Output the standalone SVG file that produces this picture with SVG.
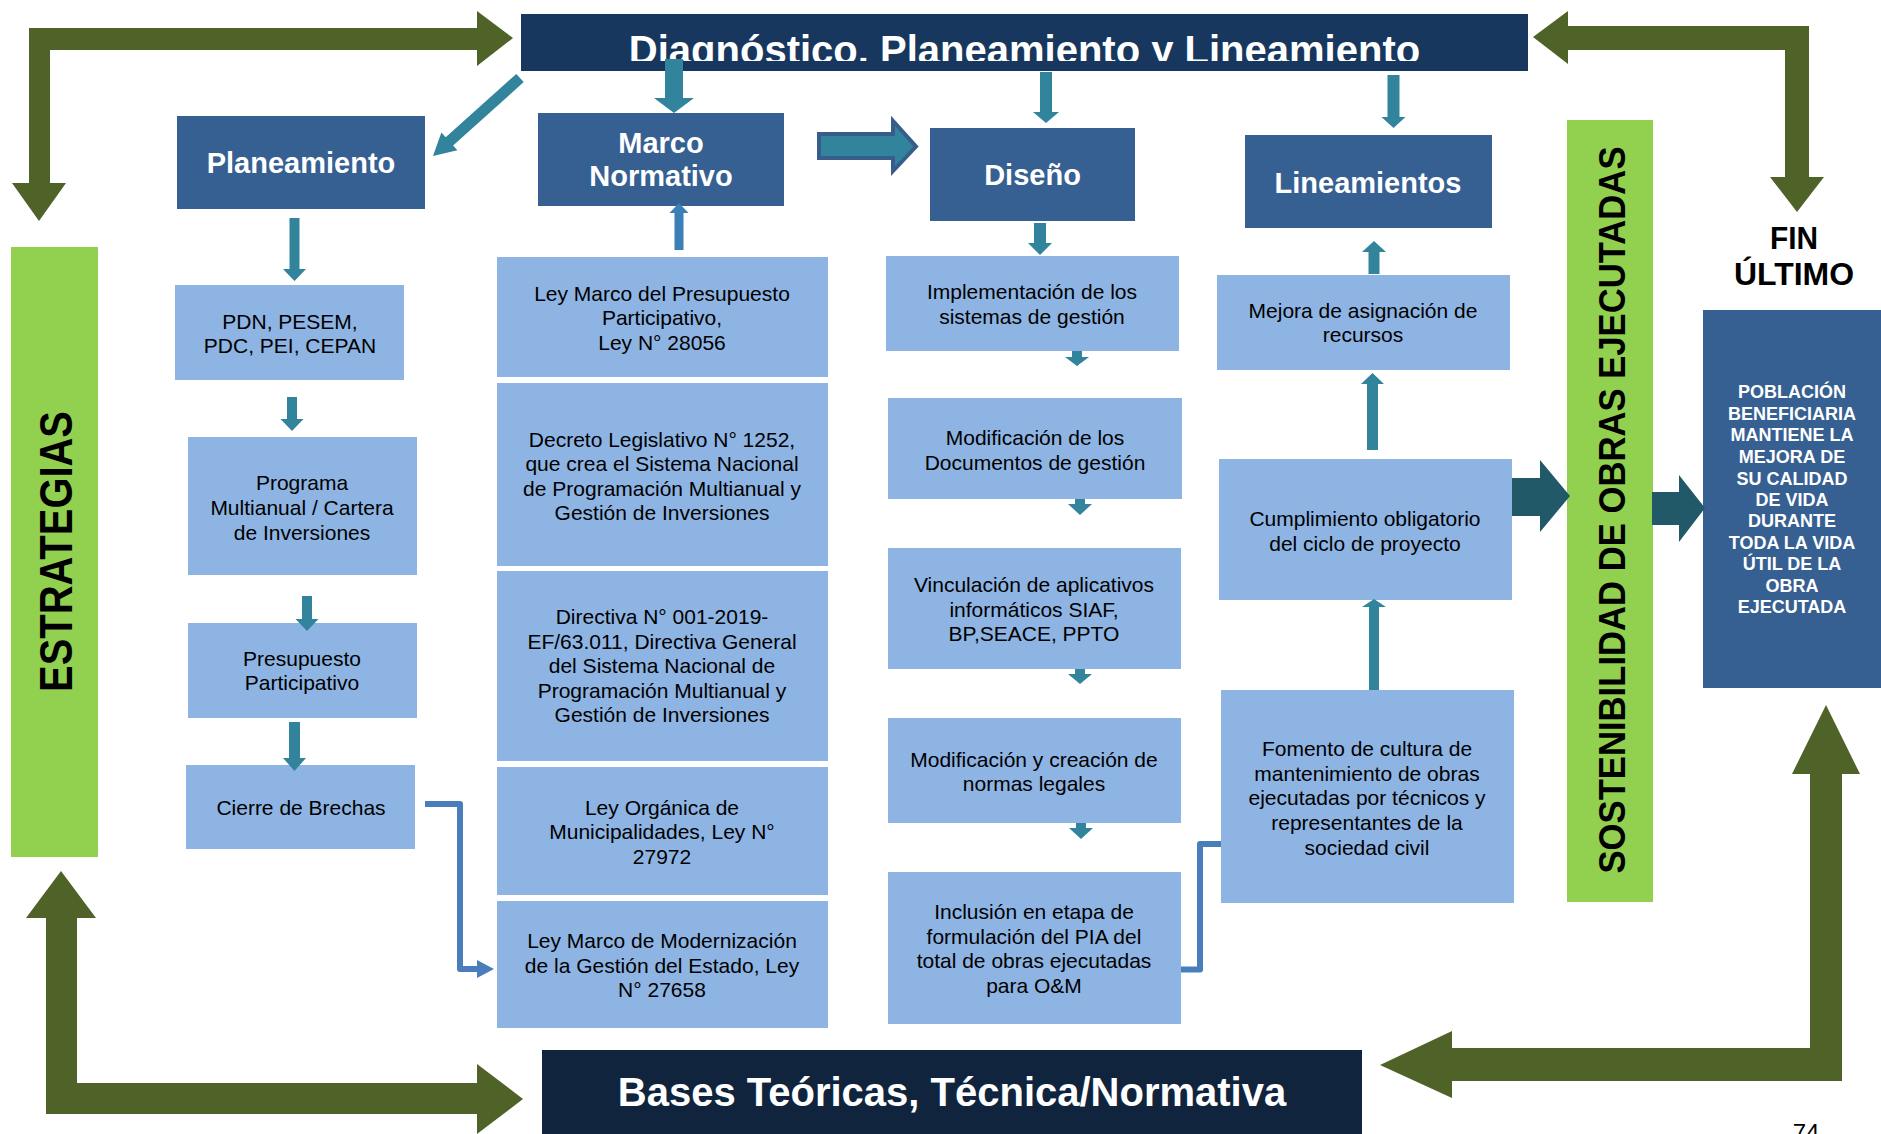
<svg xmlns="http://www.w3.org/2000/svg" width="1881" height="1134" viewBox="0 0 1881 1134">
<defs>
<style>
.lb{fill:#8EB4E3}
.db{fill:#376092}
.t{font-family:"Liberation Sans",Arial,sans-serif;font-size:21px;fill:#000;text-anchor:middle}
.h{font-family:"Liberation Sans",Arial,sans-serif;font-weight:bold;font-size:29px;fill:#fff;text-anchor:middle}
.pb{font-family:"Liberation Sans",Arial,sans-serif;font-weight:bold;font-size:18px;fill:#fff;text-anchor:middle}
.big{font-family:"Liberation Sans",Arial,sans-serif;font-weight:bold;font-size:40px;fill:#fff;text-anchor:middle}
.vt{font-family:"Liberation Sans",Arial,sans-serif;font-weight:bold;fill:#000;text-anchor:middle}
.teal{fill:#31849B}
.dteal{fill:#215968}
.olive{fill:#4F6228}
.green{fill:#92D050}
.conn{fill:none;stroke:#4A7EBB;stroke-width:6;stroke-linejoin:round}
</style>
<clipPath id="clipTop"><rect x="521" y="14" width="1007" height="47"/></clipPath>
</defs>
<rect width="1881" height="1134" fill="#fff"/>

<g id="connectors">
<path class="olive" d="M29 183 L12 183 L39 221 L66 183 L50 183 L50 50 L477 50 L477 66 L513 38 L477 11 L477 28 L29 28 Z"/>
<path class="olive" d="M1809 26 L1568 26 L1568 11 L1533 37 L1568 64 L1568 50 L1785 50 L1785 177 L1770 177 L1797 212 L1824 177 L1809 177 Z"/>
<path class="olive" d="M46 918 L26 918 L61 871 L96 918 L77 918 L77 1083 L477 1083 L477 1064 L523 1099 L477 1134 L477 1114 L46 1114 Z"/>
<path class="olive" d="M1842 774 L1860 774 L1826 705 L1792 774 L1810 774 L1810 1048 L1452 1048 L1452 1031 L1380 1065 L1452 1098 L1452 1081 L1842 1081 Z"/>
</g>

<g id="top-bar">
<rect x="521" y="14" width="1007" height="57" fill="#17375E"/>
<text class="big" x="1024.5" y="63.5" clip-path="url(#clipTop)">Diagnóstico. Planeamiento y Lineamiento</text>
</g>

<g id="bottom-bar">
<rect x="542" y="1050" width="820" height="84" fill="#10243E"/>
<text class="big" x="952" y="1106">Bases Teóricas, Técnica/Normativa</text>
</g>

<g id="estrategias">
<rect class="green" x="11" y="247" width="87" height="610"/>
<text class="vt" transform="translate(72,551.5) rotate(-90)" font-size="46" textLength="281" lengthAdjust="spacingAndGlyphs">ESTRATEGIAS</text>
</g>

<g id="sostenibilidad">
<rect class="green" x="1567" y="120" width="86" height="782"/>
<text class="vt" transform="translate(1625,510) rotate(-90)" font-size="37" textLength="727" lengthAdjust="spacingAndGlyphs">SOSTENIBILIDAD DE OBRAS EJECUTADAS</text>
</g>

<g id="fin-ultimo">
<text class="vt" x="1794" y="249" font-size="32" textLength="48" lengthAdjust="spacingAndGlyphs">FIN</text>
<text class="vt" x="1794" y="285" font-size="32" textLength="120" lengthAdjust="spacingAndGlyphs">ÚLTIMO</text>
</g>

<g id="poblacion">
<rect class="db" x="1703" y="310" width="178" height="378"/>
<text class="pb" x="1792" y="398">POBLACIÓN</text>
<text class="pb" x="1792" y="420">BENEFICIARIA</text>
<text class="pb" x="1792" y="441">MANTIENE LA</text>
<text class="pb" x="1792" y="463">MEJORA DE</text>
<text class="pb" x="1792" y="485">SU CALIDAD</text>
<text class="pb" x="1792" y="506">DE VIDA</text>
<text class="pb" x="1792" y="527">DURANTE</text>
<text class="pb" x="1792" y="549">TODA LA VIDA</text>
<text class="pb" x="1792" y="570">ÚTIL DE LA</text>
<text class="pb" x="1792" y="592">OBRA</text>
<text class="pb" x="1792" y="613">EJECUTADA</text>
</g>

<g id="planeamiento">
<rect class="db" x="177" y="116" width="248" height="93"/>
<text class="h" x="301" y="173">Planeamiento</text>
</g>
<g id="marco-normativo">
<rect class="db" x="538" y="113" width="246" height="93"/>
<text class="h" x="661" y="153">Marco</text>
<text class="h" x="661" y="186">Normativo</text>
</g>
<g id="diseno">
<rect class="db" x="930" y="128" width="205" height="93"/>
<text class="h" x="1032.5" y="185">Diseño</text>
</g>
<g id="lineamientos">
<rect class="db" x="1245" y="135" width="247" height="93"/>
<text class="h" x="1368" y="193">Lineamientos</text>
</g>

<g id="pdn">
<rect class="lb" x="175" y="285" width="229" height="95"/>
<text class="t" x="290" y="329">PDN, PESEM,</text>
<text class="t" x="290" y="353">PDC, PEI, CEPAN</text>
</g>
<g id="programa">
<rect class="lb" x="188" y="437" width="229" height="138"/>
<text class="t" x="302" y="490">Programa</text>
<text class="t" x="302" y="515">Multianual / Cartera</text>
<text class="t" x="302" y="540">de Inversiones</text>
</g>
<g id="presupuesto">
<rect class="lb" x="188" y="623" width="229" height="95"/>
<text class="t" x="302" y="666">Presupuesto</text>
<text class="t" x="302" y="690">Participativo</text>
</g>
<g id="cierre">
<rect class="lb" x="186" y="765" width="229" height="84"/>
<text class="t" x="301" y="815">Cierre de Brechas</text>
</g>

<g id="ley-presupuesto">
<rect class="lb" x="497" y="257" width="331" height="120"/>
<text class="t" x="662" y="301">Ley Marco del Presupuesto</text>
<text class="t" x="662" y="325">Participativo,</text>
<text class="t" x="662" y="350">Ley N° 28056</text>
</g>
<g id="decreto">
<rect class="lb" x="497" y="383" width="331" height="183"/>
<text class="t" x="662" y="447">Decreto Legislativo N° 1252,</text>
<text class="t" x="662" y="471">que crea el Sistema Nacional</text>
<text class="t" x="662" y="495.5">de Programación Multianual y</text>
<text class="t" x="662" y="520">Gestión de Inversiones</text>
</g>
<g id="directiva">
<rect class="lb" x="497" y="571" width="331" height="190"/>
<text class="t" x="662" y="624">Directiva N° 001-2019-</text>
<text class="t" x="662" y="649">EF/63.011, Directiva General</text>
<text class="t" x="662" y="673">del Sistema Nacional de</text>
<text class="t" x="662" y="698">Programación Multianual y</text>
<text class="t" x="662" y="722">Gestión de Inversiones</text>
</g>
<g id="ley-organica">
<rect class="lb" x="497" y="767" width="331" height="128"/>
<text class="t" x="662" y="815">Ley Orgánica de</text>
<text class="t" x="662" y="839">Municipalidades, Ley N°</text>
<text class="t" x="662" y="864">27972</text>
</g>
<g id="ley-modernizacion">
<rect class="lb" x="497" y="901" width="331" height="127"/>
<text class="t" x="662" y="948">Ley Marco de Modernización</text>
<text class="t" x="662" y="973">de la Gestión del Estado, Ley</text>
<text class="t" x="662" y="997">N° 27658</text>
</g>

<g id="implementacion">
<rect class="lb" x="886" y="256" width="293" height="95"/>
<text class="t" x="1032" y="299">Implementación de los</text>
<text class="t" x="1032" y="324">sistemas de gestión</text>
</g>
<g id="modificacion-documentos">
<rect class="lb" x="888" y="398" width="294" height="101"/>
<text class="t" x="1035" y="445">Modificación de los</text>
<text class="t" x="1035" y="470">Documentos de gestión</text>
</g>
<g id="vinculacion">
<rect class="lb" x="888" y="548" width="293" height="121"/>
<text class="t" x="1034" y="592">Vinculación de aplicativos</text>
<text class="t" x="1034" y="617">informáticos SIAF,</text>
<text class="t" x="1034" y="641">BP,SEACE, PPTO</text>
</g>
<g id="modificacion-normas">
<rect class="lb" x="888" y="718" width="293" height="105"/>
<text class="t" x="1034" y="767">Modificación y creación de</text>
<text class="t" x="1034" y="791">normas legales</text>
</g>
<g id="inclusion">
<rect class="lb" x="888" y="872" width="293" height="152"/>
<text class="t" x="1034" y="919">Inclusión en etapa de</text>
<text class="t" x="1034" y="944">formulación del PIA del</text>
<text class="t" x="1034" y="968">total de obras ejecutadas</text>
<text class="t" x="1034" y="993">para O&amp;M</text>
</g>

<g id="mejora">
<rect class="lb" x="1217" y="275" width="293" height="95"/>
<text class="t" x="1363" y="318">Mejora de asignación de</text>
<text class="t" x="1363" y="342">recursos</text>
</g>
<g id="cumplimiento">
<rect class="lb" x="1219" y="459" width="293" height="141"/>
<text class="t" x="1365" y="526">Cumplimiento obligatorio</text>
<text class="t" x="1365" y="551">del ciclo de proyecto</text>
</g>
<g id="fomento">
<rect class="lb" x="1221" y="690" width="293" height="213"/>
<text class="t" x="1367" y="756">Fomento de cultura de</text>
<text class="t" x="1367" y="781">mantenimiento de obras</text>
<text class="t" x="1367" y="805">ejecutadas por técnicos y</text>
<text class="t" x="1367" y="830">representantes de la</text>
<text class="t" x="1367" y="855">sociedad civil</text>
</g>

<g id="arrows">
<polygon class="teal" points="523.7,82.1 453.1,145.4 457.4,150.2 433,156 441.4,132.4 445.7,137.2 516.3,73.9"/>
<polygon class="teal" points="665,59 683,59 683,98 694,98 674,113 654,98 665,98"/>
<polygon class="teal" points="1040,72 1052,72 1052,112 1059,112 1046,123 1033,112 1040,112"/>
<polygon class="teal" points="1387.5,75 1399.5,75 1399.5,117 1405.5,117 1393.5,128 1381.5,117 1387.5,117"/>
<polygon fill="#3A7FB6" points="674.5,250 683.5,250 683.5,213 688.5,213 679,203 669.5,213 674.5,213"/>
<polygon class="teal" stroke="#385D8A" stroke-width="4" stroke-linejoin="miter" points="819,134 893,134 893,121 916,146.5 893,171 893,158 819,158"/>
<polygon class="teal" points="289.5,218 299.5,218 299.5,269 306,269 294.5,281 283,269 289.5,269"/>
<polygon class="teal" points="287,397 297,397 297,419 303.5,419 292,431 280.5,419 287,419"/>
<polygon class="teal" points="302,596 312,596 312,619 318.5,619 307,631 295.5,619 302,619"/>
<polygon class="teal" points="289,722 300,722 300,758 306,758 294.5,771 283,758 289,758"/>
<polygon class="teal" points="1034,223 1046,223 1046,243 1052,243 1040,255 1028,243 1034,243"/>
<polygon class="teal" points="1072,351 1082,351 1082,357 1089,357 1077,366 1065,357 1072,357"/>
<polygon class="teal" points="1075,499 1085,499 1085,504 1092,504 1080,515 1068,504 1075,504"/>
<polygon class="teal" points="1075,669 1085,669 1085,674 1092,674 1080,684 1068,674 1075,674"/>
<polygon class="teal" points="1076,823 1086,823 1086,828 1093,828 1081,839 1069,828 1076,828"/>
<polygon class="teal" points="1368.5,274 1379.5,274 1379.5,252 1386,252 1374,241 1362,252 1368.5,252"/>
<polygon class="teal" points="1367,450 1378,450 1378,384 1384,384 1372.5,373 1361,384 1367,384"/>
<polygon class="teal" points="1369,690 1379,690 1379,607 1386,607 1374,599 1362,607 1369,607"/>
<polygon class="dteal" points="1512,478 1540,478 1540,460 1570,496 1540,532 1540,516 1512,516"/>
<polygon class="dteal" points="1652,492 1679,492 1679,475 1705,508 1679,542 1679,525 1652,525"/>
<polyline class="conn" points="425,804 460,804 460,969 478,969"/>
<polygon fill="#4A7EBB" points="477,960 494,969 477,978"/>
<polyline class="conn" points="1181,969.5 1200,969.5 1200,844 1221,844"/>
</g>

<text x="1806" y="1141" font-family="Liberation Sans, Arial, sans-serif" font-size="24" text-anchor="middle" fill="#000">74</text>
</svg>
